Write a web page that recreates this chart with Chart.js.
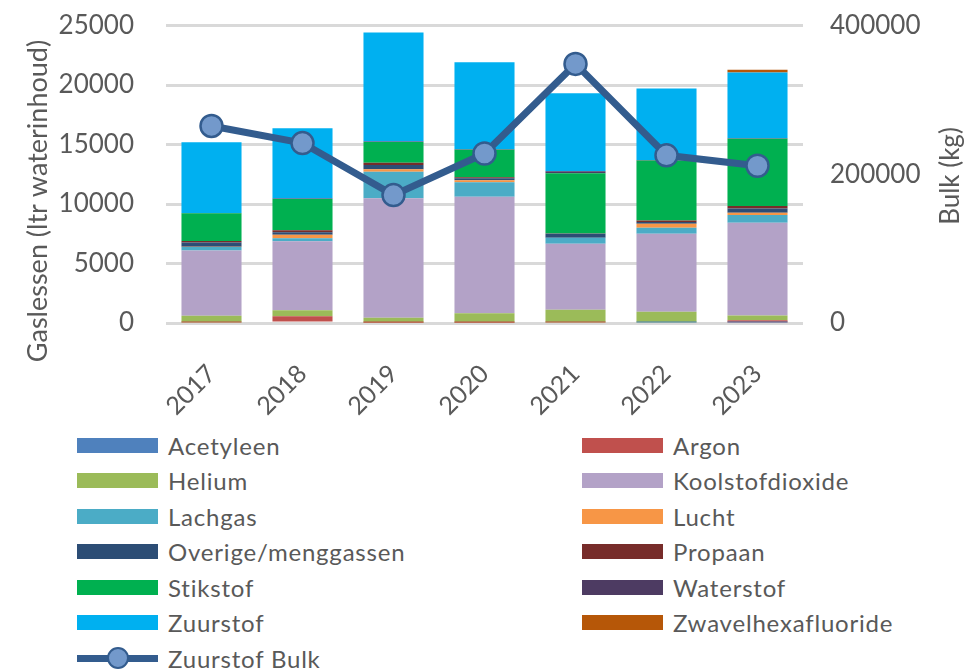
<!DOCTYPE html>
<html>
<head>
<meta charset="utf-8">
<script src="https://cdn.jsdelivr.net/npm/chart.js@4"></script>
<style>
  html, body { margin: 0; padding: 0; background: #fff; }
  body { width: 969px; height: 669px; position: relative; overflow: hidden; font-family: Lato, "Liberation Sans", sans-serif; }
  #wrap { position: absolute; left: 0; top: -22px; width: 969px; height: 442px; }
  #legenda { position: absolute; left: 0; top: 427px; width: 969px; }
  .item { position: absolute; height: 36px; display: flex; align-items: center; color: #595959; font-size: 24px; letter-spacing: 0.8px; }
  .vak { width: 81px; height: 15px; margin-right: 10px; }
  .lijn { position: relative; width: 81px; height: 15px; margin-right: 10px; }
  .lijn .streep { position: absolute; left: 0; right: 0; top: 4px; height: 7px; }
  .lijn .bol { position: absolute; left: 30px; top: -4px; width: 18px; height: 18px; border-radius: 50%; border: 2.5px solid; }
</style>
</head>
<body>
<div id="wrap"><canvas id="grafiek"></canvas></div>
<div id="legenda"></div>
<script>
// jaren en gassen
const jaren = ['2017', '2018', '2019', '2020', '2021', '2022', '2023'];

const acetyleen = [0, 0, 0, 0, 0, 50, 40];
const argon = [50, 560, 30, 30, 40, 0, 200];
const helium = [550, 520, 420, 780, 1080, 900, 380];
const koolstofdioxide = [5500, 5800, 10040, 9800, 5540, 6550, 7800];
const lachgas = [280, 250, 2230, 1230, 500, 500, 650];
const lucht = [30, 280, 200, 170, 0, 340, 200];
const overige = [350, 220, 360, 150, 340, 140, 365];
const propaan = [140, 170, 200, 100, 30, 140, 200];
const stikstof = [2320, 2630, 1730, 2300, 5060, 5040, 5650];
const waterstof = [30, 30, 50, 50, 170, 50, 50];
const zuurstof = [5950, 5920, 9160, 7300, 6550, 6000, 5530];
const zwavelhexafluoride = [0, 0, 0, 0, 0, 0, 230];

// bulk zuurstof in kg (rechter as)
const zuurstofBulk = [265000, 242000, 172000, 228000, 348500, 225500, 211500];

const linksTicks = [0, 5000, 10000, 15000, 20000, 25000];
const rechtsTicks = [0, 200000, 400000];

const gassen = [
    ['Acetyleen', acetyleen, '#4F81BD'],
    ['Argon', argon, '#C0504D'],
    ['Helium', helium, '#9BBB59'],
    ['Koolstofdioxide', koolstofdioxide, '#B3A2C7'],
    ['Lachgas', lachgas, '#4BACC6'],
    ['Lucht', lucht, '#F79646'],
    ['Overige/menggassen', overige, '#2C4D75'],
    ['Propaan', propaan, '#772C2A'],
    ['Stikstof', stikstof, '#00B050'],
    ['Waterstof', waterstof, '#4D3B62'],
    ['Zuurstof', zuurstof, '#00B0F0'],
    ['Zwavelhexafluoride', zwavelhexafluoride, '#B65708']
];

const lijnKleur = '#335C8E';
const bolKleur = '#7399CB';
const tekstKleur = '#595959';
const rasterKleur = '#D9D9D9';
const font = 'Lato, "Liberation Sans", sans-serif';
const verschuiving = 22; // canvas staat 22px hoger dan de pagina

let datasets = gassen.map(g => ({
    type: 'bar',
    label: g[0],
    data: g[1],
    backgroundColor: g[2],
    borderWidth: 0,
    stack: 'gas',
    yAxisID: 'y',
    order: 1
}));

datasets.push({
    type: 'line',
    label: 'Zuurstof Bulk',
    data: zuurstofBulk,
    borderColor: lijnKleur,
    borderWidth: 7,
    pointRadius: 11,
    pointBackgroundColor: bolKleur,
    pointBorderColor: lijnKleur,
    pointBorderWidth: 2.5,
    tension: 0,
    yAxisID: 'y1',
    order: 0
});

// astitels zelf tekenen (rechts leest van onder naar boven)
const asTitels = {
    id: 'asTitels',
    afterDraw(chart) {
        let ctx = chart.ctx;
        ctx.save();
        ctx.fillStyle = tekstKleur;
        ctx.font = '27px ' + font;
        ctx.textAlign = 'center';
        ctx.textBaseline = 'middle';
        ctx.translate(38, 201 + verschuiving);
        ctx.rotate(-Math.PI / 2);
        ctx.fillText('Gaslessen (ltr waterinhoud)', 0, 0);
        ctx.restore();

        ctx.save();
        ctx.fillStyle = tekstKleur;
        ctx.font = '26px ' + font;
        ctx.textAlign = 'center';
        ctx.textBaseline = 'middle';
        ctx.translate(951, 176 + verschuiving);
        ctx.rotate(-Math.PI / 2);
        ctx.fillText('Bulk (kg)', 0, 0);
        ctx.restore();
    }
};

new Chart(document.getElementById('grafiek'), {
    data: { labels: jaren, datasets: datasets },
    plugins: [asTitels],
    options: {
        responsive: true,
        maintainAspectRatio: false,
        animation: false,
        layout: { padding: { top: 3, left: 0, right: 0, bottom: 0 } },
        plugins: {
            legend: { display: false },
            tooltip: { enabled: false }
        },
        datasets: {
            bar: { categoryPercentage: 1, barPercentage: 0.66 }
        },
        scales: {
            x: {
                stacked: true,
                grid: { display: false },
                border: { display: false },
                ticks: {
                    color: tekstKleur,
                    font: { family: font, size: 25 },
                    minRotation: 45,
                    maxRotation: 45,
                    padding: 28
                },
                afterFit(s) { s.height = 97; }
            },
            y: {
                stacked: true,
                position: 'left',
                min: 0,
                max: 25000,
                afterBuildTicks(s) { s.ticks = linksTicks.map(v => ({ value: v })); },
                grid: { color: rasterKleur, lineWidth: 3, drawTicks: false },
                border: { display: false },
                ticks: {
                    color: tekstKleur,
                    font: { family: font, size: 26 },
                    padding: 32,
                    callback: v => String(v)
                },
                afterFit(s) { s.width = 166; }
            },
            y1: {
                position: 'right',
                min: 0,
                max: 400000,
                afterBuildTicks(s) { s.ticks = rechtsTicks.map(v => ({ value: v })); },
                grid: { display: false, drawTicks: false },
                border: { display: false },
                ticks: {
                    color: tekstKleur,
                    font: { family: font, size: 26 },
                    padding: 27,
                    callback: v => String(v)
                },
                afterFit(s) { s.width = 166; }
            }
        }
    }
});

// legenda in twee kolommen, zelfde volgorde als de datasets
let legenda = document.getElementById('legenda');
let items = gassen.map(g => ({ naam: g[0], kleur: g[2], lijn: false }));
items.push({ naam: 'Zuurstof Bulk', kleur: lijnKleur, lijn: true });

items.forEach((it, i) => {
    let div = document.createElement('div');
    div.className = 'item';
    div.style.left = (i % 2 === 0 ? 77 : 582) + 'px';
    div.style.top = (Math.floor(i / 2) * 35.5) + 'px';
    if (it.lijn) {
        div.innerHTML = '<span class="lijn"><span class="streep" style="background:' + it.kleur + '"></span>' +
            '<span class="bol" style="background:' + bolKleur + ';border-color:' + it.kleur + '"></span></span>';
    } else {
        div.innerHTML = '<span class="vak" style="background:' + it.kleur + '"></span>';
    }
    let tekst = document.createElement('span');
    tekst.textContent = it.naam;
    div.appendChild(tekst);
    legenda.appendChild(div);
});
</script>
</body>
</html>
